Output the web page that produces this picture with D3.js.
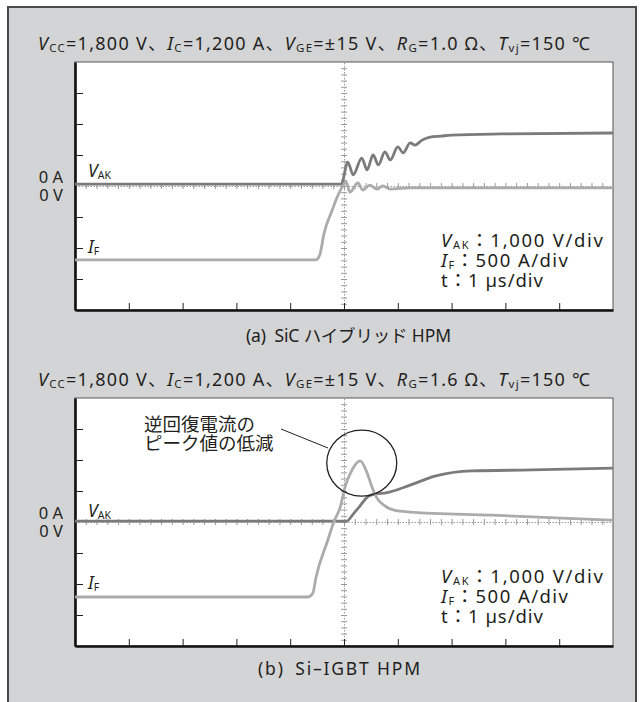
<!DOCTYPE html>
<html>
<head>
<meta charset="utf-8">
<script src="https://cdn.jsdelivr.net/npm/d3@7/dist/d3.min.js"></script>
<style>
  body { margin: 0; background: #fff; }
  svg text { font-family: 'Noto Sans', 'Noto Sans CJK JP', sans-serif; fill: #231f20; }
</style>
</head>
<body>
<svg id="chart"></svg>
<script>
/* global d3 */

// waveform data (time in µs, V_AK in V, I_F in A)
const tVakA = [-5, -0.05, 0.07, 0.17, 0.33, 0.43, 0.54, 0.64, 0.76, 0.86, 1.0, 1.1, 1.23, 1.32, 1.45, 1.6, 1.8, 2.0, 2.9, 5]
const vakA = [60, 60, 770, 360, 900, 520, 1000, 680, 1100, 840, 1260, 1070, 1390, 1320, 1480, 1580, 1610, 1640, 1680, 1710]
const tIfA = [-5, -0.52, -0.45, -0.37, -0.22, -0.11, -0.02, 0.04, 0.11, 0.26, 0.35, 0.48, 0.61, 0.72, 0.86, 1.23, 5]
const ifA = [-1190, -1190, -1110, -760, -390, -145, 0, 65, -100, 50, -65, 15, -50, 0, -50, -30, -30]

const tVakB = [-5, 0.05, 0.16, 0.28, 0.46, 0.58, 0.78, 1.23, 1.69, 2.38, 3.5, 5]
const vakB = [30, 30, 230, 480, 840, 900, 940, 1190, 1480, 1650, 1680, 1740]
const tIfB = [-5, -0.67, -0.58, -0.52, -0.3, -0.19, -0.07, 0.02, 0.15, 0.3, 0.43, 0.52, 0.61, 0.76, 0.93, 1.23, 2.75, 5]
const ifB = [-1210, -1210, -1150, -890, -290, 0, 240, 565, 840, 985, 790, 565, 390, 260, 190, 160, 110, 30]

// axis settings: 10 time divisions, 8 vertical divisions
const timeDomain = [-5, 5]
const divDomain = [-4, 4]
const voltPerDiv = 1000
const ampPerDiv = 500
const majorX = [-4, -3, -2, -1, 0, 1, 2, 3, 4]
const majorY = [-3, -2, -1, 1, 2, 3]
const zeroLabels = ['0 A', '0 V']

// text parts: [text, style] where style i = italic, s = subscript
const titleA = [['V', 'i'], ['CC', 's'], ['=1,800 V、'], ['I', 'i'], ['C', 's'], ['=1,200 A、'], ['V', 'i'], ['GE', 's'], ['=±15 V、'], ['R', 'i'], ['G', 's'], ['=1.0 Ω、'], ['T', 'i'], ['vj', 's'], ['=150 ℃']]
const titleB = [['V', 'i'], ['CC', 's'], ['=1,800 V、'], ['I', 'i'], ['C', 's'], ['=1,200 A、'], ['V', 'i'], ['GE', 's'], ['=±15 V、'], ['R', 'i'], ['G', 's'], ['=1.6 Ω、'], ['T', 'i'], ['vj', 's'], ['=150 ℃']]
const scaleNote = [
  [['V', 'i'], ['AK', 's'], ['：1,000 V/div']],
  [['I', 'i'], ['F', 's'], ['：500 A/div']],
  [['t：1 µs/div']]
]
const vakLabel = [['V', 'i'], ['AK', 's']]
const ifLabel = [['I', 'i'], ['F', 's']]
const captionA = '(a)\u2002SiC ハイブリッド HPM'
const captionB = '(b)\u2002Si–IGBT HPM'
const noteLines = ['逆回復電流の', 'ピーク値の低減']

const w = 643
const h = 702

const svg = d3.select('#chart')
  .attr('width', w)
  .attr('height', h)

// grey frame behind both charts (runs off the bottom like the original)
svg.append('rect')
  .attr('x', 8)
  .attr('y', 7)
  .attr('width', 628)
  .attr('height', 740)
  .attr('fill', '#d3d4d6')
  .attr('stroke', '#4a4a4a')
  .attr('stroke-width', 2)

// write a line of text made of plain / italic / subscript pieces
const richText = (sel, parts, subSize, len) => {
  let shift = 0
  parts.forEach(p => {
    const span = sel.append('tspan').text(p[0])
    const target = p[1] === 's' ? 2 : 0
    if (target !== shift) {
      span.attr('dy', target - shift)
      shift = target
    }
    if (p[1] === 'i') span.style('font-style', 'italic')
    if (p[1] === 's') span.style('font-size', subSize + 'px')
  })
  // the print face is wider than the local fonts, so stretch the spacing
  if (len) sel.attr('textLength', len).attr('lengthAdjust', 'spacing')
  return sel
}

const x = d3.scaleLinear().domain(timeDomain).range([75, 613])
const noteWidths = [162, 127, 102]

const drawPanel = (cfg) => {
  const top = cfg.top
  const bottom = top + 248
  const yDiv = d3.scaleLinear().domain(divDomain).range([bottom, top])
  const yV = d3.scaleLinear().domain(divDomain.map(d => d * voltPerDiv)).range([bottom, top])
  const yI = d3.scaleLinear().domain(divDomain.map(d => d * ampPerDiv)).range([bottom, top])
  const g = svg.append('g')

  // title
  richText(g.append('text')
    .attr('x', 38)
    .attr('y', top - 12)
    .style('font-size', '18px'), cfg.title, 11.5, 552)

  // plot area
  g.append('rect')
    .attr('x', x(timeDomain[0]))
    .attr('y', top)
    .attr('width', x(timeDomain[1]) - x(timeDomain[0]))
    .attr('height', bottom - top)
    .attr('fill', '#fff')
    .attr('stroke', '#555')
    .attr('stroke-width', 1)

  // centre graticule with minor ticks
  const minorY = d3.range(-20, 21).map(d => d / 5).filter(d => Math.abs(d) < 4)
  const minorX = d3.range(-25, 26).map(d => d / 5).filter(d => Math.abs(d) < 5)

  const cy = g.append('g')
    .attr('class', 'centre')
    .attr('transform', `translate(${x(0)}, 0)`)
    .call(d3.axisLeft(yDiv).tickValues(minorY).tickSize(3).tickSizeOuter(0).tickFormat(''))
  g.append('g')
    .attr('class', 'centre')
    .attr('transform', `translate(${x(0)}, 0)`)
    .call(d3.axisRight(yDiv).tickValues(minorY).tickSize(3).tickSizeOuter(0).tickFormat(''))
    .select('.domain').remove()
  cy.select('.domain').attr('stroke-dasharray', '1.5,1.5')

  const cx = g.append('g')
    .attr('class', 'centre')
    .attr('transform', `translate(0, ${yDiv(0)})`)
    .call(d3.axisTop(x).tickValues(minorX).tickSize(3).tickSizeOuter(0).tickFormat(''))
  g.append('g')
    .attr('class', 'centre')
    .attr('transform', `translate(0, ${yDiv(0)})`)
    .call(d3.axisBottom(x).tickValues(minorX).tickSize(3).tickSizeOuter(0).tickFormat(''))
    .select('.domain').remove()
  cx.select('.domain').attr('stroke-dasharray', '1.5,1.5')

  g.selectAll('.centre path, .centre line')
    .attr('stroke', '#9a9a9a')
    .attr('stroke-width', 1)

  // major ticks on the left and bottom edges
  g.append('g')
    .attr('class', 'edge')
    .attr('transform', `translate(${x(timeDomain[0])}, 0)`)
    .call(d3.axisRight(yDiv).tickValues(majorY).tickSize(8).tickSizeOuter(0).tickFormat(''))
  g.append('g')
    .attr('class', 'edge')
    .attr('transform', `translate(0, ${bottom})`)
    .call(d3.axisTop(x).tickValues(majorX).tickSize(7).tickSizeOuter(0).tickFormat(''))
  g.selectAll('.edge line').attr('stroke', '#222').attr('stroke-width', 1)
  g.selectAll('.edge .domain').attr('stroke', '#111').attr('stroke-width', 2.6)

  // traces
  const lineV = d3.line()
    .x(d => x(d[0]))
    .y(d => yV(d[1]))
    .curve(d3.curveMonotoneX)
  const lineI = d3.line()
    .x(d => x(d[0]))
    .y(d => yI(d[1]))
    .curve(d3.curveMonotoneX)

  g.append('path')
    .datum(d3.zip(cfg.tVak, cfg.vak))
    .attr('d', lineV)
    .attr('fill', 'none')
    .attr('stroke', '#7b7b7b')
    .attr('stroke-width', 2.8)
    .attr('stroke-linejoin', 'round')

  g.append('path')
    .datum(d3.zip(cfg.tIf, cfg.iF))
    .attr('d', lineI)
    .attr('fill', 'none')
    .attr('stroke', '#ababab')
    .attr('stroke-width', 2.8)
    .attr('stroke-linejoin', 'round')

  // 0 A / 0 V
  g.selectAll('.zero')
    .data(zeroLabels)
    .enter()
    .append('text')
    .attr('class', 'zero')
    .attr('x', 63)
    .attr('y', (d, i) => yDiv(0) + (i === 0 ? -3 : 15))
    .attr('text-anchor', 'end')
    .style('font-size', '16.5px')
    .text(d => d)

  // trace labels
  richText(g.append('text')
    .attr('x', 88)
    .attr('y', yDiv(0) + cfg.vakLabelDy)
    .style('font-size', '17.5px'), vakLabel, 10.5)
  richText(g.append('text')
    .attr('x', 88)
    .attr('y', yDiv(0) + 67)
    .style('font-size', '17.5px'), ifLabel, 10.5)

  // scale note
  scaleNote.forEach((parts, i) => {
    richText(g.append('text')
      .attr('x', 441)
      .attr('y', top + 185 + i * 20)
      .style('font-size', '18.5px'), parts, 11, noteWidths[i])
  })

  // caption
  g.append('text')
    .attr('x', cfg.captionX)
    .attr('y', bottom + cfg.captionDy)
    .attr('textLength', cfg.captionW)
    .attr('lengthAdjust', 'spacing')
    .style('font-size', '17.5px')
    .text(cfg.caption)

  return { yDiv, yI }
}

drawPanel({
  top: 62,
  title: titleA,
  tVak: tVakA,
  vak: vakA,
  tIf: tIfA,
  iF: ifA,
  vakLabelDy: -9,
  caption: captionA,
  captionX: 246,
  captionW: 205,
  captionDy: 32
})

const pb = drawPanel({
  top: 398,
  title: titleB,
  tVak: tVakB,
  vak: vakB,
  tIf: tIfB,
  iF: ifB,
  vakLabelDy: -5,
  caption: captionB,
  captionX: 258,
  captionW: 162,
  captionDy: 29
})

// annotation for the reverse recovery peak
const note = svg.append('g')
note.selectAll('text')
  .data(noteLines)
  .enter()
  .append('text')
  .attr('x', 144)
  .attr('y', (d, i) => 431 + i * 19)
  .style('font-size', '18.5px')
  .text(d => d)

note.append('line')
  .attr('x1', 281)
  .attr('y1', 429)
  .attr('x2', 328)
  .attr('y2', 448)
  .attr('stroke', '#231f20')
  .attr('stroke-width', 1)

note.append('ellipse')
  .attr('cx', x(0.33))
  .attr('cy', pb.yI(950))
  .attr('rx', 35)
  .attr('ry', 33)
  .attr('fill', 'none')
  .attr('stroke', '#231f20')
  .attr('stroke-width', 1.3)
</script>
</body>
</html>
